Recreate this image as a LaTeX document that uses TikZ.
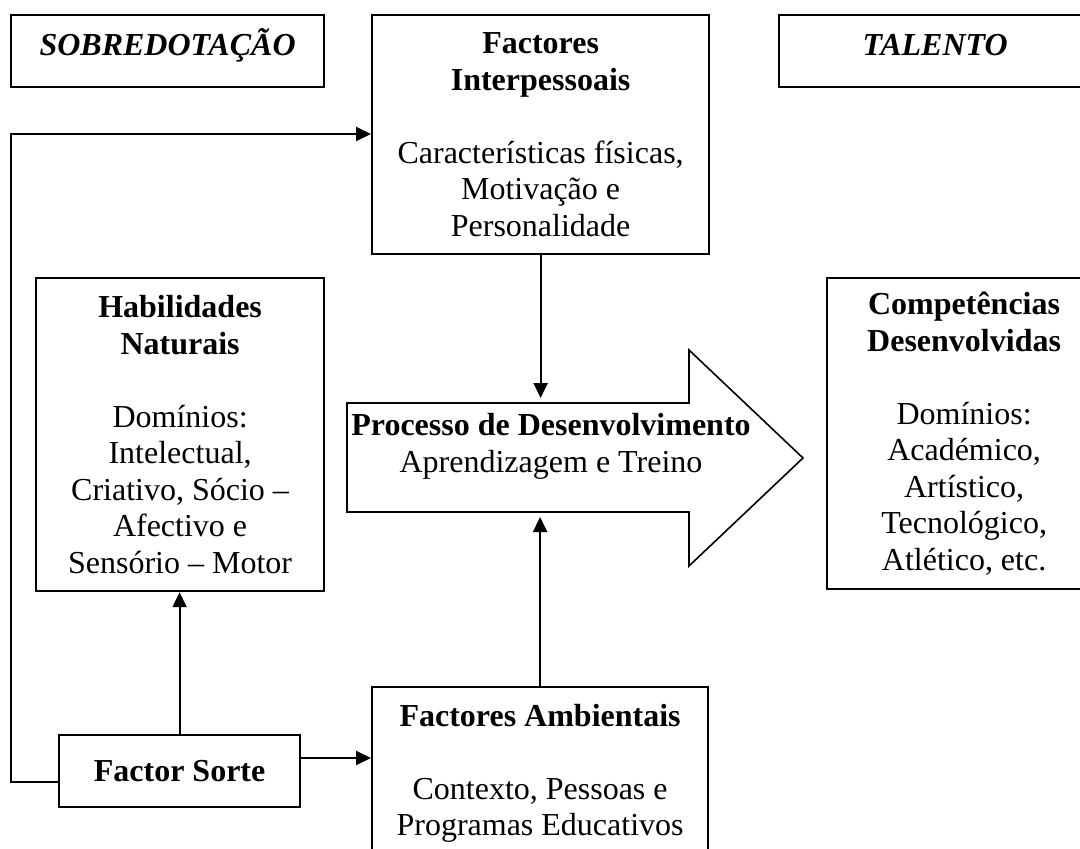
\documentclass[tikz,border=0pt]{standalone}
\usepackage{fontspec}
\setmainfont{Liberation Serif}
\usetikzlibrary{arrows.meta,calc}
\begin{document}
\begin{tikzpicture}[x=1pt,y=-1pt,
  box/.style={draw=black,line width=2.2pt,rectangle,inner sep=0pt,align=center,
    anchor=north west,font=\fontsize{32}{36.5}\selectfont},
  conn/.style={line width=2pt},
  arr/.style={conn,-{Triangle[length=15pt,width=14pt]}},
  bigarrow/.style={draw=black,line width=1.6pt,line join=miter}
]
\useasboundingbox (0,0) rectangle (1080,849);
\clip (0,0) rectangle (1080,849);

% header boxes
\node[box,minimum width=313,minimum height=72,text height=25pt,text depth=16pt] (sob) at (10,14) {\textbf{\textit{SOBREDOTAÇÃO}}};
\node[box,minimum width=312,minimum height=72,text height=25pt,text depth=16pt] (tal) at (778,14) {\textbf{\textit{TALENTO}}};

% Factores Interpessoais
\node[box,minimum width=337,minimum height=239] (inter) at (371,14)
  {\textbf{Factores}\\\textbf{Interpessoais}\\[36.5pt]Características físicas,\\Motivação e\\Personalidade};

% Habilidades Naturais
\node[box,minimum width=288,minimum height=313] (hab) at (35,277)
  {\textbf{Habilidades}\\\textbf{Naturais}\\[36.5pt]Domínios:\\Intelectual,\\Criativo, Sócio --\\Afectivo e\\Sensório -- Motor};

% Competências Desenvolvidas
\node[box,minimum width=274,minimum height=311] (comp) at (826,277)
  {\textbf{Competências}\\\textbf{Desenvolvidas}\\[36.5pt]Domínios:\\Académico,\\Artístico,\\Tecnológico,\\Atlético, etc.};

% Factores Ambientais
\node[box,minimum width=336,minimum height=172] (amb) at (371,686)
  {\textbf{Factores Ambientais}\\[36.5pt]Contexto, Pessoas e\\Programas Educativos};

% Factor Sorte
\node[box,minimum width=241,minimum height=72] (sorte) at (58,734) {\textbf{Factor Sorte}};

% Big arrow
\draw[bigarrow] (347,403) -- (689,403) -- (689,350) -- (803,458) -- (689,566) -- (689,512) -- (347,512) -- cycle;
\node[align=center,font=\fontsize{32}{37}\selectfont,inner sep=0pt] (proc) at (551,446)
  {\textbf{Processo de Desenvolvimento}\\Aprendizagem e Treino};
\coordinate (ptop) at (539,398);
\coordinate (pbot) at (539,517);

% connectors
\coordinate (c1) at (11,782);
\coordinate (c2) at (11,134);
\coordinate (c3) at (0,758);
\draw[arr] (c1 -| sorte.west) -- (c1) -- (c2) -- (c2 -| inter.west);
\draw[arr] (sorte.north) -- (sorte.north |- hab.south);
\draw[arr] (sorte.east |- c3) -- (amb.west |- c3);
\draw[arr] (inter.south) -- (inter.south |- ptop);
\draw[arr] (amb.north) -- (amb.north |- pbot);
\end{tikzpicture}
\end{document}
